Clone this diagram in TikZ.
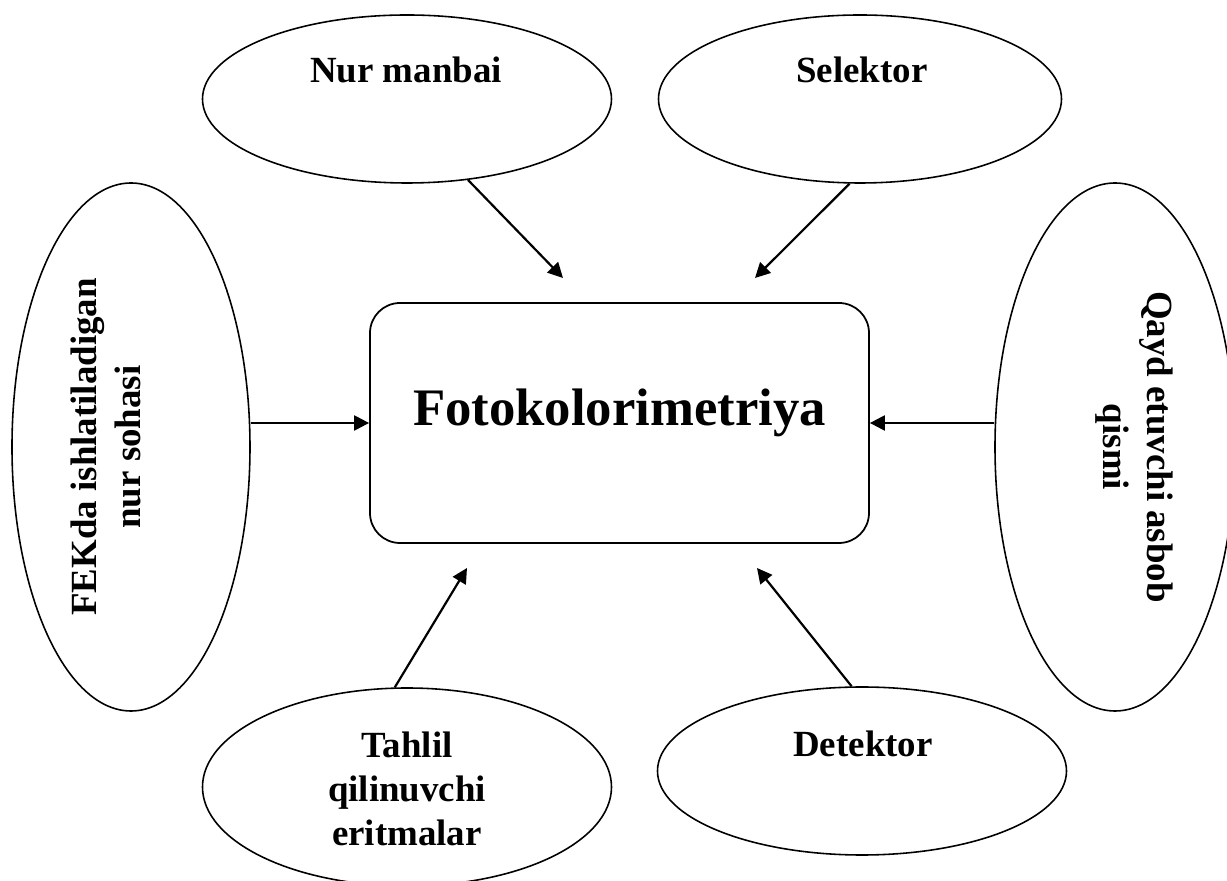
\documentclass[tikz,border=0pt]{standalone}
\usepackage{fontspec}
\setmainfont{Liberation Serif}
\usetikzlibrary{arrows.meta,shapes.geometric}

\begin{document}
\begin{tikzpicture}[
  oval/.style={draw, ellipse, line width=0.9pt, inner sep=0pt},
  box/.style={draw, rounded corners=0.6cm, line width=1pt, minimum width=9.98cm, minimum height=4.8cm},
  lbl/.style={align=center, font=\fontsize{21}{25}\selectfont\bfseries},
  arrow/.style={-{Triangle[length=3mm, width=3mm]}, line width=1.25pt}
]
\useasboundingbox (-12.39,-9.16) rectangle (12.15,8.46);

\node[box] (main) at (0,0) {};
\node[font=\fontsize{30}{36}\selectfont\bfseries] (title) at (0,0.2) {Fotokolorimetriya};

\node[oval, minimum width=8.18cm, minimum height=3.36cm] (src) at (-4.25,6.48) {};
\node[oval, minimum width=8.06cm, minimum height=3.36cm] (sel) at (4.81,6.48) {};
\node[oval, minimum width=4.76cm, minimum height=10.56cm] (band) at (-9.77,-0.48) {};
\node[oval, minimum width=4.8cm, minimum height=10.56cm] (rec) at (9.91,-0.48) {};
\node[oval, minimum width=8.18cm, minimum height=3.96cm] (samp) at (-4.25,-7.28) {};
\node[oval, minimum width=8.18cm, minimum height=3.36cm] (det) at (4.85,-6.96) {};

\node[lbl] (srctxt) at (-4.27,7.06) {Nur manbai};
\node[lbl] (seltxt) at (4.85,7.06) {Selektor};
\node[lbl, rotate=90] (bandtxt) at (-10.27,-0.48) {FEKda ishlatiladigan\\nur sohasi};
\node[lbl, rotate=-90] (rectxt) at (10.3,-0.48) {Qayd etuvchi asbob\\qismi};
\node[lbl] (samptxt) at (-4.25,-7.32) {Tahlil\\qilinuvchi\\eritmalar};
\node[lbl] (dettxt) at (4.87,-6.42) {Detektor};

% arrow tips stop short of the box
\coordinate (tipA) at (-1.13,2.9);
\coordinate (tipB) at (2.71,2.9);
\coordinate (tipC) at (-3.05,-2.9);
\coordinate (tipD) at (2.75,-2.9);

\draw[arrow] (src.-53) -- (tipA);
\draw[arrow] (sel.-97) -- (tipB);
\draw[arrow] (band.east |- main) -- (main.west);
\draw[arrow] (rec.west |- main) -- (main.east);
\draw[arrow] (samp.97) -- (tipC);
\draw[arrow] (det.97) -- (tipD);
\end{tikzpicture}
\end{document}
